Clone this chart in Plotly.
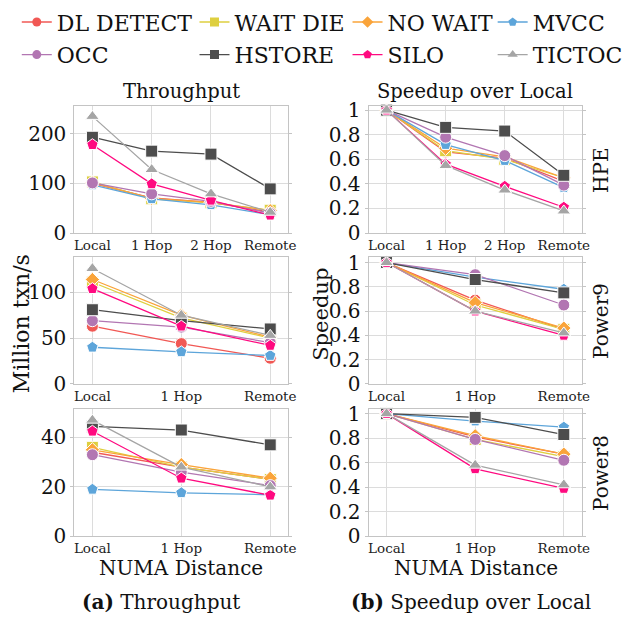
import plotly.graph_objects as go

# ---------------- data ----------------
PROTOCOLS = ["DL DETECT", "WAIT DIE", "NO WAIT", "MVCC", "OCC", "HSTORE", "SILO", "TICTOC"]
COLORS = ["#F15854", "#DECF3F", "#FAA43A", "#5DA5DA", "#B276B2", "#4D4D4D", "#FF0A80", "#A5A5A5"]
SYMBOLS = ["circle", "square", "diamond", "pentagon", "circle", "square", "pentagon", "triangle-up"]

CAT4 = ["Local", "1 Hop", "2 Hop", "Remote"]
CAT3 = ["Local", "1 Hop", "Remote"]

HPE_TPUT = {
    "DL DETECT": [100, 71, 62, 42], "WAIT DIE": [103, 69, 61, 46], "NO WAIT": [101, 70, 62, 45],
    "MVCC": [97, 69, 57, 37], "OCC": [101, 79, 64, 40], "HSTORE": [193, 165, 159, 89],
    "SILO": [178, 99, 66, 36], "TICTOC": [235, 128, 79, 42],
}
HPE_SPEED = {
    "DL DETECT": [1, 0.66, 0.61, 0.42], "WAIT DIE": [1, 0.67, 0.60, 0.45], "NO WAIT": [1, 0.69, 0.62, 0.45],
    "MVCC": [1, 0.72, 0.59, 0.37], "OCC": [1, 0.78, 0.63, 0.39], "HSTORE": [1, 0.86, 0.83, 0.47],
    "SILO": [1, 0.56, 0.38, 0.21], "TICTOC": [1, 0.55, 0.35, 0.18],
}
P9_TPUT = {
    "DL DETECT": [63, 44, 28], "WAIT DIE": [111, 72, 50], "NO WAIT": [114, 75, 51],
    "MVCC": [40, 35, 31], "OCC": [69, 62, 45], "HSTORE": [81, 69, 60],
    "SILO": [104, 63, 42], "TICTOC": [126, 75, 53],
}
P9_SPEED = {
    "DL DETECT": [1, 0.69, 0.45], "WAIT DIE": [1, 0.65, 0.45], "NO WAIT": [1, 0.67, 0.46],
    "MVCC": [1, 0.88, 0.78], "OCC": [1, 0.90, 0.65], "HSTORE": [1, 0.86, 0.75],
    "SILO": [1, 0.60, 0.40], "TICTOC": [1, 0.60, 0.42],
}
P8_TPUT = {
    "DL DETECT": [34, 28, 23], "WAIT DIE": [36, 28, 23], "NO WAIT": [35, 29, 23.5],
    "MVCC": [19, 17.6, 16.8], "OCC": [33, 26, 20.5], "HSTORE": [44.5, 43, 37],
    "SILO": [42.5, 23.5, 16.6], "TICTOC": [47, 28, 20],
}
P8_SPEED = {
    "DL DETECT": [1, 0.81, 0.67], "WAIT DIE": [1, 0.79, 0.65], "NO WAIT": [1, 0.82, 0.67],
    "MVCC": [1, 0.94, 0.89], "OCC": [1, 0.79, 0.62], "HSTORE": [1, 0.97, 0.83],
    "SILO": [1, 0.55, 0.39], "TICTOC": [1, 0.58, 0.42],
}

TPUT_TICKS_HPE = [0, 100, 200]
TPUT_TICKS_P9 = [0, 50, 100]
TPUT_TICKS_P8 = [0, 20, 40]
SPEED_TICKS = [0, 0.2, 0.4, 0.6, 0.8, 1]
SPEED_LABELS = ["0", "0.2", "0.4", "0.6", "0.8", "1"]

# ---------------- layout helpers ----------------
W, H = 630, 626
FONT = "DejaVu Serif"
GRID = "#dcdcdc"
FRAME = "#c4c4c4"


def px(x):
    return x / W


def py(y):
    return 1 - y / H


COL_DOM = [(px(75.3), px(292)), (px(373.3), px(589.3))]
ROW_DOM = [(py(232.5), py(101.7)), (py(388.3), py(257.3)), (py(545.7), py(414))]

panels = [
    # row, col, cats, data, yrange, tickvals, ticktext
    (0, 0, CAT4, HPE_TPUT, [0, 255], TPUT_TICKS_HPE, [str(v) for v in TPUT_TICKS_HPE]),
    (0, 1, CAT4, HPE_SPEED, [0, 1.03], SPEED_TICKS, SPEED_LABELS),
    (1, 0, CAT3, P9_TPUT, [0, 138.5], TPUT_TICKS_P9, [str(v) for v in TPUT_TICKS_P9]),
    (1, 1, CAT3, P9_SPEED, [0, 1.045], SPEED_TICKS, SPEED_LABELS),
    (2, 0, CAT3, P8_TPUT, [0, 51.6], TPUT_TICKS_P8, [str(v) for v in TPUT_TICKS_P8]),
    (2, 1, CAT3, P8_SPEED, [0, 1.04], SPEED_TICKS, SPEED_LABELS),
]

fig = go.Figure()
layout_axes = {}

for i, (r, c, cats, data, yr, tv, tt) in enumerate(panels):
    n = i + 1
    xa = "x" if n == 1 else f"x{n}"
    ya = "y" if n == 1 else f"y{n}"
    xkey = "xaxis" if n == 1 else f"xaxis{n}"
    ykey = "yaxis" if n == 1 else f"yaxis{n}"
    for p, col, sym in zip(PROTOCOLS, COLORS, SYMBOLS):
        fig.add_trace(go.Scatter(
            x=cats, y=data[p], mode="lines+markers", name=p, showlegend=False,
            line=dict(color=col, width=1.3),
            marker=dict(symbol=sym, size=12 if sym != "diamond" else 11, color=col,
                        line=dict(color="white", width=1)),
            xaxis=xa, yaxis=ya, cliponaxis=False,
        ))
    if len(cats) == 4:
        xr = [-0.305, 3.305]
    else:
        xr = [-0.203, 2.203]
    layout_axes[xkey] = dict(
        domain=list(COL_DOM[c]), anchor=ya, type="category", categoryorder="array",
        categoryarray=cats, range=xr, showgrid=True, gridcolor=GRID, gridwidth=1,
        showline=True, linecolor=FRAME, linewidth=1, mirror=True,
        ticks="", tickfont=dict(family=FONT, size=13.5, color="#222"), zeroline=False,
        fixedrange=True,
    )
    layout_axes[ykey] = dict(
        domain=list(ROW_DOM[r]), anchor=xa, range=yr, tickvals=tv, ticktext=tt,
        showgrid=True, gridcolor=GRID, gridwidth=1, showline=True, linecolor=FRAME,
        linewidth=1, mirror="ticks", ticks="outside", ticklen=3, tickcolor=FRAME,
        tickfont=dict(family=FONT, size=20, color="#111"), zeroline=False, fixedrange=True,
    )

# legend-only traces (4 column legends)
LEG_X = [17, 197, 352, 499]
legend_names = ["legend", "legend2", "legend3", "legend4"]
for k, (p, col, sym) in enumerate(zip(PROTOCOLS, COLORS, SYMBOLS)):
    colidx = k % 4
    fig.add_trace(go.Scatter(
        x=[None], y=[None], mode="lines+markers", name=p, showlegend=True,
        legend=legend_names[colidx], legendgroup=p,
        line=dict(color=col, width=1.3),
        marker=dict(symbol=sym, size=9, color=col),
    ))

legends = {}
for j, ln in enumerate(legend_names):
    legends[ln] = dict(
        x=px(LEG_X[j]), y=py(-7), xanchor="left", yanchor="top", orientation="v",
        bgcolor="rgba(0,0,0,0)", borderwidth=0, itemwidth=30, tracegroupgap=1,
        font=dict(family=FONT, size=22, color="#111"), itemclick=False,
        itemdoubleclick=False,
    )

annotations = []


def ann(text, x, y, size=20, angle=0, xanchor="center", yanchor="middle"):
    annotations.append(dict(
        text=text, x=px(x), y=py(y), xref="paper", yref="paper", showarrow=False,
        xanchor=xanchor, yanchor=yanchor, textangle=angle,
        font=dict(family=FONT, size=size, color="#111"),
    ))


ann("Throughput", 183.5, 86, size=19.5)
ann("Speedup over Local", 481, 86, size=19.5)
ann("Million txn/s", 22, 326, size=22, angle=-90)
ann("Speedup", 325, 316, size=21, angle=-90)
ann("HPE", 608, 167, size=20, angle=-90)
ann("Power9", 608, 323, size=20, angle=-90)
ann("Power8", 608, 480, size=20, angle=-90)
ann("NUMA Distance", 183.5, 578, size=20)
ann("NUMA Distance", 482, 578, size=20)
ann("<b>(a)</b> Throughput", 163, 614, size=20)
ann("<b>(b)</b> Speedup over Local", 477, 614, size=20)

fig.update_layout(
    width=W, height=H, margin=dict(l=0, r=0, t=0, b=0),
    paper_bgcolor="white", plot_bgcolor="white",
    font=dict(family=FONT, color="#111"),
    annotations=annotations, showlegend=True,
    **layout_axes, **legends,
)

fig.write_html("out.html", config={"displayModeBar": False})
